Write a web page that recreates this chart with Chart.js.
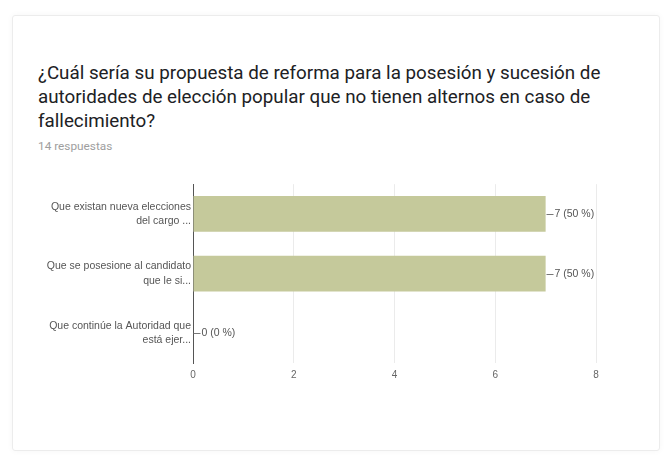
<!DOCTYPE html>
<html>
<head>
<meta charset="utf-8">
<script src="https://cdn.jsdelivr.net/npm/chart.js@4/dist/chart.umd.min.js"></script>
<style>
  html, body { margin: 0; padding: 0; background: #fff; }
  body { width: 672px; height: 464px; position: relative; overflow: hidden; font-family: Roboto, "Liberation Sans", sans-serif; }
  .card { position: absolute; left: 12px; top: 15px; width: 646px; height: 434px; border: 1px solid #ececec; border-radius: 3px; box-shadow: 0 0 6px rgba(0,0,0,0.04); }
  .title { position: absolute; left: 38px; top: 61px; width: 600px; font-size: 18.8px; line-height: 24px; color: #202124; }
  .sub { position: absolute; left: 38px; top: 139px; font-size: 11.8px; color: #9e9e9e; }
  .wrap { position: absolute; left: 20px; top: 168px; width: 600px; height: 217px; }
</style>
</head>
<body>
<div class="card"></div>
<div class="title">¿Cuál sería su propuesta de reforma para la posesión y sucesión de autoridades de elección popular que no tienen alternos en caso de fallecimiento?</div>
<div class="sub">14 respuestas</div>
<div class="wrap"><canvas id="chart"></canvas></div>
<script>
// datos
const opciones = [
  ["Que existan nueva elecciones", "del cargo ..."],
  ["Que se posesione al candidato", "que le si..."],
  ["Que continúe la Autoridad que", "está ejer..."],
];
const respuestas = [7, 7, 0];
const porcentajes = [50, 50, 0];
const ticksX = [0, 2, 4, 6, 8];

const fuente = "'Liberation Sans', Arial, sans-serif";

// etiquetas al final de cada barra
const etiquetasBarras = {
  id: "etiquetasBarras",
  afterDatasetsDraw(chart) {
    const ctx = chart.ctx;
    const meta = chart.getDatasetMeta(0);
    ctx.save();
    ctx.font = "10.5px " + fuente;
    ctx.fillStyle = "#555";
    ctx.strokeStyle = "#777";
    ctx.lineWidth = 1;
    ctx.textBaseline = "middle";
    meta.data.forEach((bar, i) => {
      const x = Math.round(bar.x) + 0.5;
      const y = Math.round(bar.y) + 0.5;
      ctx.beginPath();
      ctx.moveTo(x, y);
      ctx.lineTo(x + 7, y);
      ctx.stroke();
      ctx.fillText(`${respuestas[i]} (${porcentajes[i]} %)`, x + 8, y);
    });
    ctx.restore();
  },
};

new Chart(document.getElementById("chart"), {
  type: "bar",
  data: {
    labels: opciones,
    datasets: [
      {
        data: respuestas,
        backgroundColor: "#c5c99b",
        borderWidth: 0,
        barPercentage: 0.6,
        categoryPercentage: 1,
      },
    ],
  },
  options: {
    indexAxis: "y",
    responsive: true,
    maintainAspectRatio: false,
    animation: false,
    layout: { padding: { top: 1, right: 24, left: 0, bottom: 0 } },
    plugins: { legend: { display: false }, tooltip: { enabled: false } },
    scales: {
      x: {
        min: 0,
        max: 8,
        afterBuildTicks: (axis) => { axis.ticks = ticksX.map((v) => ({ value: v })); },
        afterFit: (axis) => { axis.height = 22; },
        grid: { color: "#ebebeb", drawTicks: false },
        border: { display: false },
        ticks: { color: "#666", padding: 6, font: { size: 10, family: fuente } },
      },
      y: {
        afterFit: (axis) => { axis.width = 173; },
        grid: { display: false, drawTicks: false },
        border: { display: true, color: "#555", width: 1 },
        ticks: { color: "#555", padding: 2, font: { size: 10.5, family: fuente, lineHeight: 1.35 } },
      },
    },
  },
  plugins: [etiquetasBarras],
});
</script>
</body>
</html>
